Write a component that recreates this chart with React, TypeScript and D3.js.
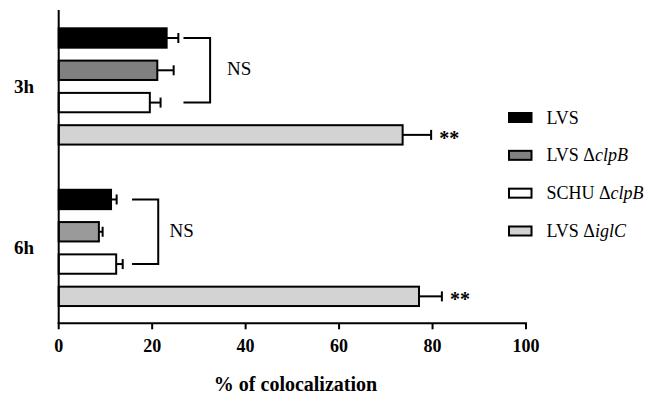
import React from "react";
import * as d3 from "d3";

const groups = ["3h", "6h"];
const series = ["LVS", "LVS ΔclpB", "SCHU ΔclpB", "LVS ΔiglC"];
const legendPlain = ["LVS", "LVS Δ", "SCHU Δ", "LVS Δ"];
const legendItalic = ["", "clpB", "clpB", "iglC"];

const values3h = [23.1, 21.1, 19.5, 73.6];
const errors3h = [2.5, 3.5, 2.3, 6.1];
const values6h = [11.2, 8.6, 12.3, 77.1];
const errors6h = [1.2, 0.8, 1.4, 4.9];

// NS brackets (in % units) and where the NS label starts
const bracketFrom = [26.7, 15.7];
const bracketTo = [32.4, 21.3];
const nsAt = [36.0, 23.7];
const starSeries = "LVS ΔiglC";

const xTicks = [0, 20, 40, 60, 80, 100];

const colors = {
  LVS: "#000000",
  "LVS ΔclpB": "#808080",
  "SCHU ΔclpB": "#ffffff",
  "LVS ΔiglC": "#d3d3d3",
};
// the grey bar of the 6h group is printed a bit lighter
const groupOverride = { "6h": { "LVS ΔclpB": "#9a9a9a" } };

const W = 651;
const H = 400;
const font = "'Liberation Serif', 'Times New Roman', serif";

export default function App() {
  const data = groups.map((g, gi) => ({
    group: g,
    bars: series.map((s, si) => ({
      key: s,
      value: gi === 0 ? values3h[si] : values6h[si],
      err: gi === 0 ? errors3h[si] : errors6h[si],
    })),
  }));

  const x = d3.scaleLinear().domain([0, 100]).range([58.7, 526]);
  const y0 = d3.scaleBand().domain(groups).range([21.85, 312.5]).paddingInner(0.2).paddingOuter(0);
  const y1 = d3
    .scaleBand()
    .domain(series)
    .range([0, y0.bandwidth()])
    .paddingInner(0.4)
    .paddingOuter(0.2);
  const bw = y1.bandwidth();
  const axisY = 323.3;

  const legendY = d3.scalePoint().domain(series).range([117.5, 231]);

  return (
    <svg
      width={W}
      height={H}
      style={{ position: "absolute", left: 0, top: 0, background: "#fff" }}
      fontFamily={font}
    >
      {/* bars */}
      {data.map((d, gi) => {
        const gy = y0(d.group);
        const cy = (s) => gy + y1(s) + bw / 2;
        return (
          <g key={d.group}>
            {d.bars.map((b) => {
              const yy = gy + y1(b.key);
              const fill = (groupOverride[d.group] || {})[b.key] || colors[b.key];
              const ex = x(b.value + b.err);
              return (
                <g key={b.key}>
                  <rect
                    x={x(0)}
                    y={yy}
                    width={x(b.value) - x(0)}
                    height={bw}
                    fill={fill}
                    stroke="#000"
                    strokeWidth={2}
                  />
                  <line x1={x(b.value)} x2={ex} y1={yy + bw / 2} y2={yy + bw / 2} stroke="#000" strokeWidth={2} />
                  <line x1={ex} x2={ex} y1={yy + bw / 2 - 5} y2={yy + bw / 2 + 5} stroke="#000" strokeWidth={2} />
                  {b.key === starSeries && (
                    <text x={ex + 8} y={yy + bw / 2 + 10} fontSize={20} fontWeight="bold">
                      **
                    </text>
                  )}
                </g>
              );
            })}
            {/* NS bracket */}
            <path
              d={`M${x(bracketFrom[gi])},${cy(series[0])}H${x(bracketTo[gi])}V${cy(series[2])}H${x(bracketFrom[gi])}`}
              fill="none"
              stroke="#000"
              strokeWidth={2}
            />
            <text x={x(nsAt[gi])} y={cy(series[1]) + 5} fontSize={19}>
              NS
            </text>
            <text
              x={34}
              y={gy + y0.bandwidth() / 2 + 6.5}
              fontSize={19}
              fontWeight="bold"
              textAnchor="end"
            >
              {d.group}
            </text>
          </g>
        );
      })}

      {/* y axis line */}
      <line x1={x(0)} x2={x(0)} y1={10} y2={axisY} stroke="#000" strokeWidth={2} />

      {/* x axis */}
      <line x1={x(0) - 1} x2={x(100) + 1} y1={axisY} y2={axisY} stroke="#000" strokeWidth={2} />
      {xTicks.map((t) => (
        <g key={t}>
          <line x1={x(t)} x2={x(t)} y1={axisY} y2={axisY + 6} stroke="#000" strokeWidth={2} />
          <text x={x(t)} y={351.5} fontSize={18} fontWeight="bold" textAnchor="middle">
            {t}
          </text>
        </g>
      ))}
      <text x={295.5} y={391} fontSize={20} fontWeight="bold" textAnchor="middle">
        % of colocalization
      </text>

      {/* legend */}
      {series.map((s, i) => (
        <g key={s} transform={`translate(0,${legendY(s)})`}>
          <rect x={509} y={-4.5} width={22.5} height={9} fill={colors[s]} stroke="#000" strokeWidth={2} />
          <text x={546.5} y={6} fontSize={18}>
            {legendPlain[i]}
            <tspan fontStyle="italic">{legendItalic[i]}</tspan>
          </text>
        </g>
      ))}
    </svg>
  );
}
